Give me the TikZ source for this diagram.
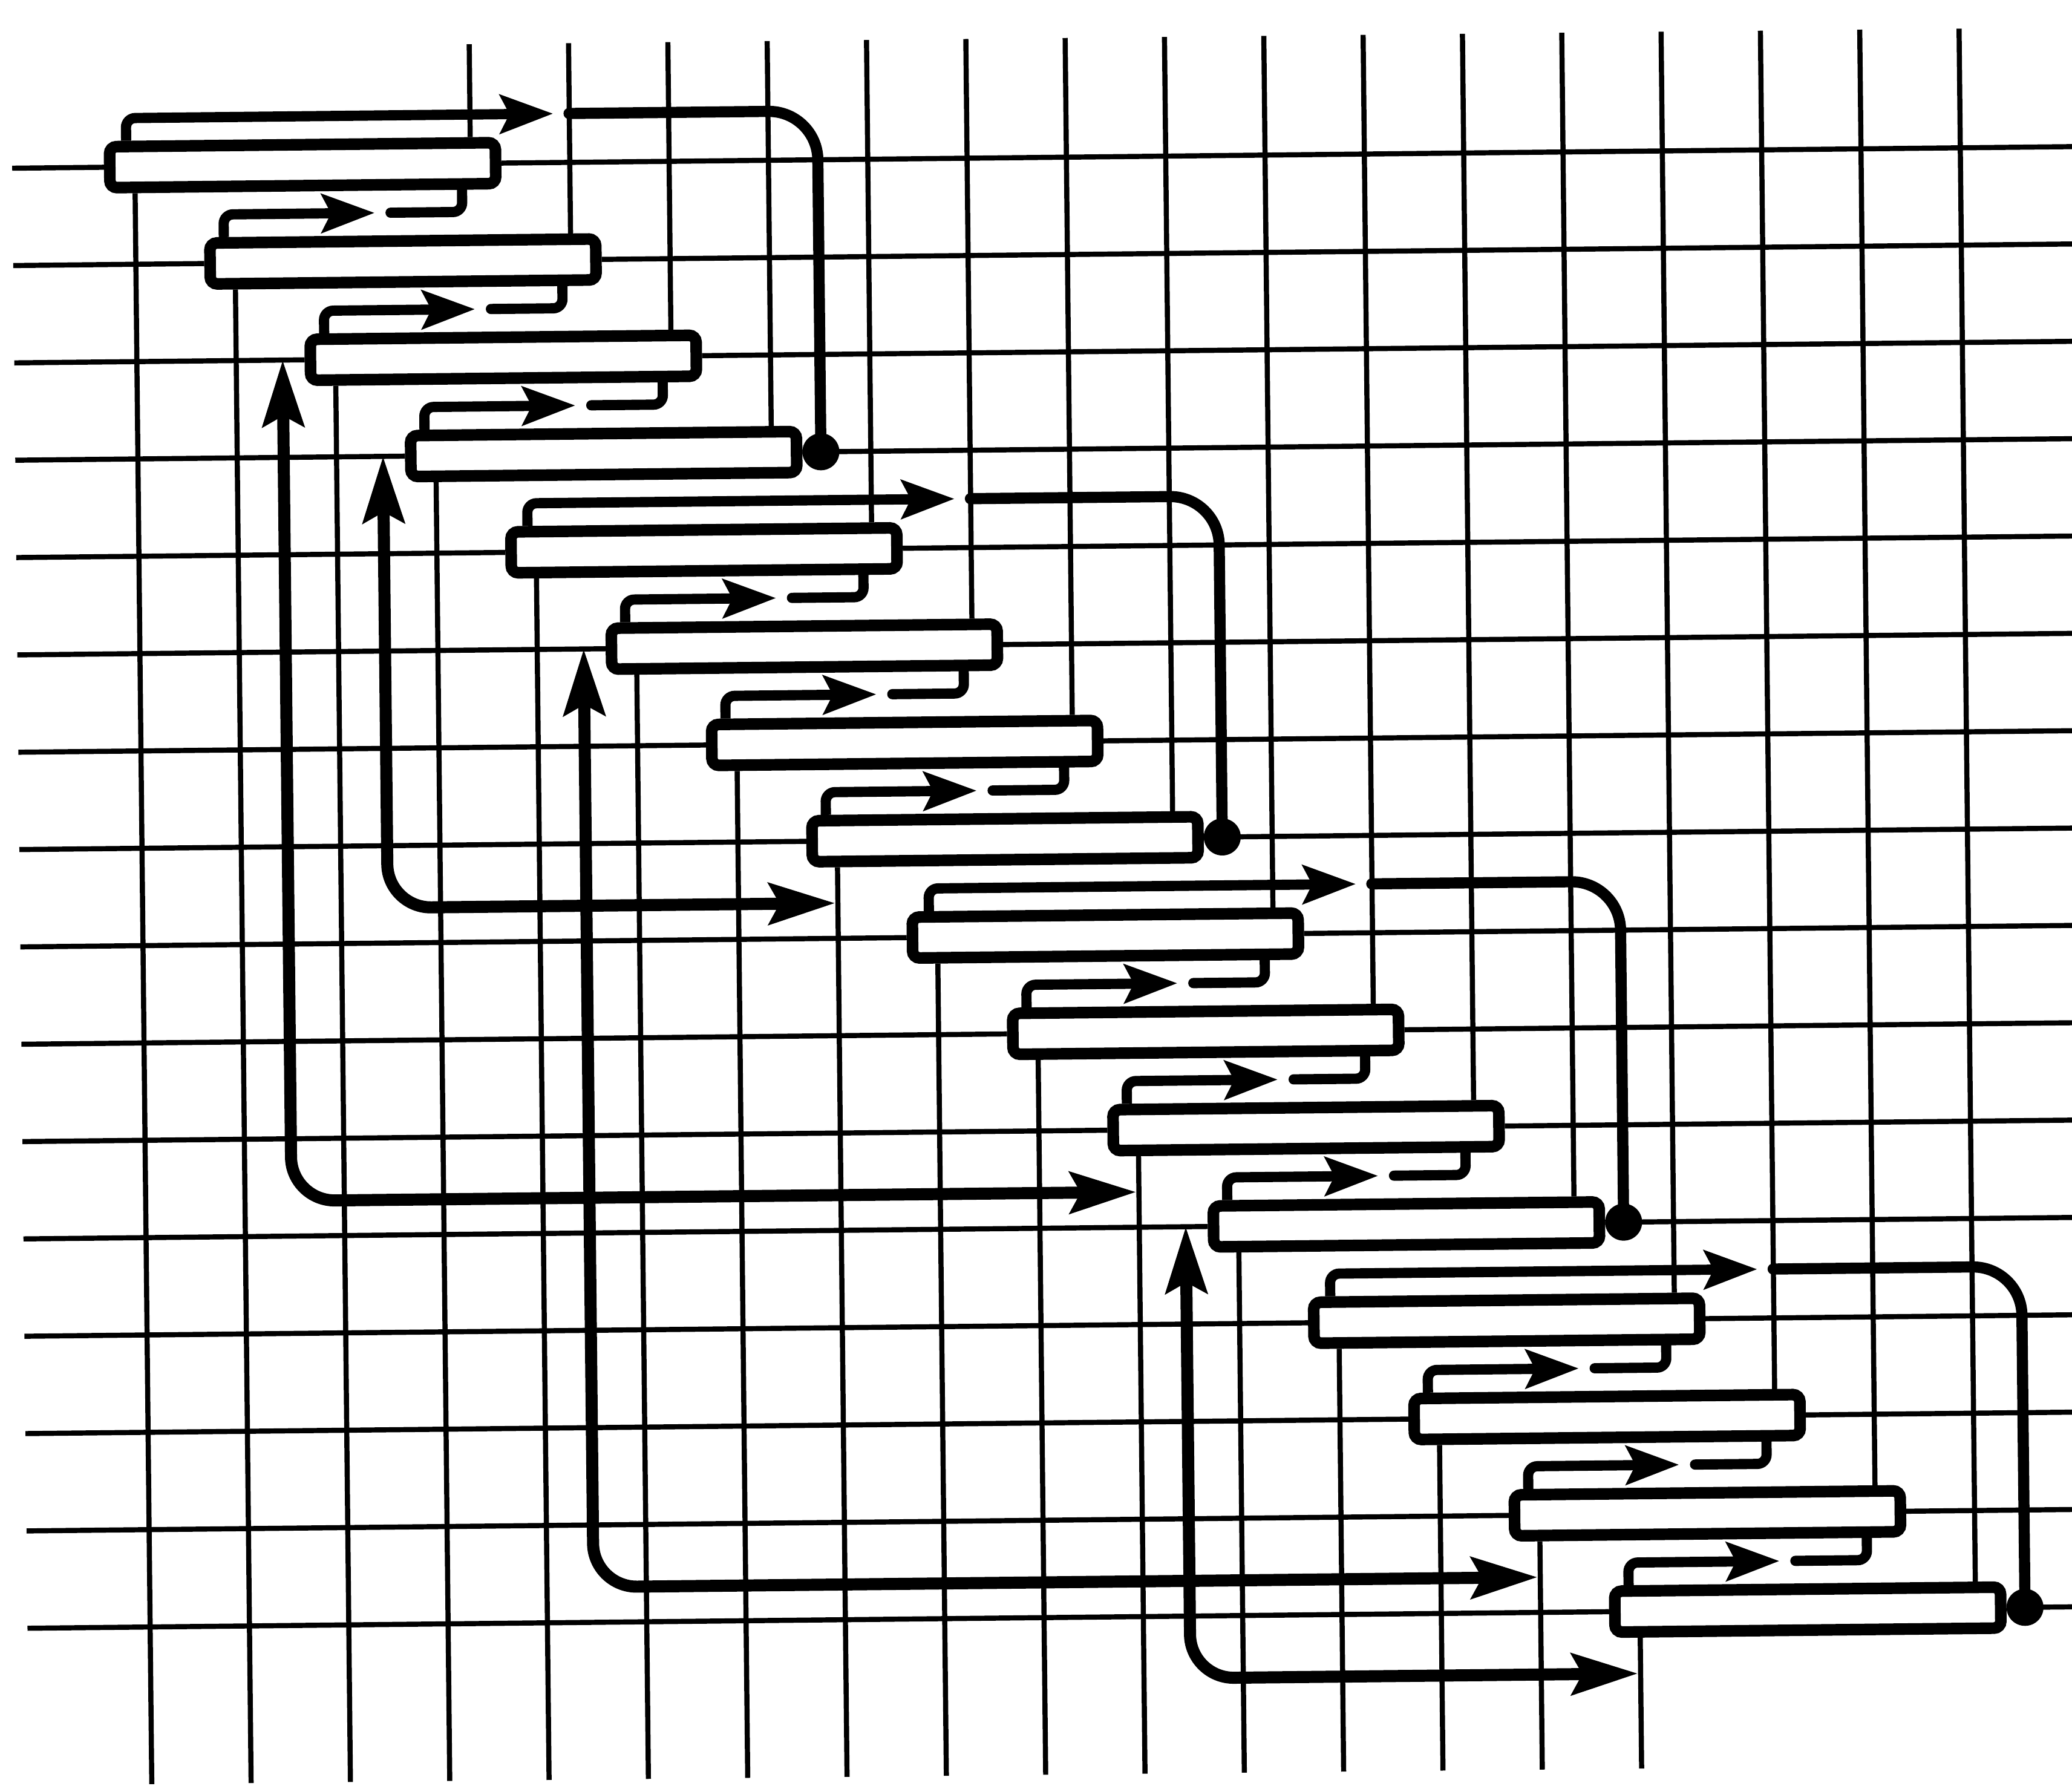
\documentclass[tikz,border=0pt]{standalone}
\usepackage{tikz}
\usetikzlibrary{arrows.meta, calc, positioning}

\begin{document}
\begin{tikzpicture}
    % Define styles
    \tikzstyle{task} = [rectangle, rounded corners=1.5pt, minimum width=2.92cm, minimum height=0.31cm, inner sep=0pt, draw=black, line width=2.5pt, fill=white]
    \tikzstyle{gridline} = [line width=1.1pt]
    \tikzstyle{link} = [line width=2.2pt, rounded corners=2pt, arrows={-Stealth[length=4mm, width=2.9mm, inset=0.7mm]}]
    \tikzstyle{tail} = [line width=2.2pt, rounded corners=2pt, line cap=round]
    \tikzstyle{chain} = [line width=2.4pt, rounded corners=3.7mm, line cap=round]
    \tikzstyle{feedback} = [line width=2.6pt, rounded corners=3.3mm, arrows={Stealth[length=5mm, width=3.1mm, inset=0.8mm]-Stealth[length=5mm, width=3.1mm, inset=0.8mm]}]
    \tikzstyle{joint} = [circle, fill=black, inner sep=0pt, minimum size=2.8mm]

    \fill[white] (0,0) rectangle (15.68,13.51);
    \useasboundingbox (0,0) rectangle (15.68,13.51);

    \begin{scope}[transform canvas={rotate around={0.6:(7.84,6.755)}}]
    % Edges of the grid
    \coordinate (lft) at (0.15,0);
    \coordinate (rgt) at (16.5,0);
    \coordinate (tp) at (0,13.22);
    \coordinate (bt) at (0,0.08);

    % Bars
    \foreach \i in {1,...,16}
        \node (b\i) [task] at ({2.348+0.7517*(\i-1)},{12.318-0.7366*(\i-1)}) {};

    % Grid lines
    \foreach \i in {1,...,16} {
        \coordinate (v\i) at ([xshift=1.27cm]b\i.north);
        \coordinate (w\i) at ([xshift=-1.27cm]b\i.south);
        \draw [gridline] (b\i.west) -- (b\i.west -| lft);
        \draw [gridline] (b\i.east) -- (b\i.east -| rgt);
        \draw [gridline] (v\i) -- (v\i |- tp);
        \draw [gridline] (w\i) -- (w\i |- bt);
    }

    % Short arrows
    \foreach \p/\i in {1/2,2/3,3/4,5/6,6/7,7/8,9/10,10/11,11/12,13/14,14/15,15/16} {
        \draw [link] ([xshift=0.15cm]b\i.north west) |- ($(b\i.center)+(-0.21,0.37)$);
        \draw [tail] ([xshift=-0.30cm]b\p.south east) |- ($(b\i.center)+(-0.09,0.37)$);
    }

    % Long arrows
    \foreach \g/\e in {1/4,5/8,9/12,13/16} {
        \draw [link] ([xshift=0.17cm]b\g.north west) |- ($(b\g.center)+(1.90,0.37)$);
        \node (d\e) [joint] at ($(b\e.east)+(0.14,0)$) {};
        \draw [chain] (d\e.center) |- ($(b\g.center)+(2.02,0.37)$);
    }

    % Feedback
    \draw [feedback] ($(b3.center)+(-1.67,0)$) |- ($(b11.center)+(-1.29,-0.47)$);
    \draw [feedback] ($(b4.center)+(-1.67,0)$) |- ($(b8.center)+(-1.29,-0.47)$);
    \draw [feedback] ($(b6.center)+(-1.67,0)$) |- ($(b15.center)+(-1.29,-0.47)$);
    \draw [feedback] ($(b12.center)+(-1.67,0)$) |- ($(b16.center)+(-1.29,-0.47)$);
    \end{scope}
\end{tikzpicture}
\end{document}
